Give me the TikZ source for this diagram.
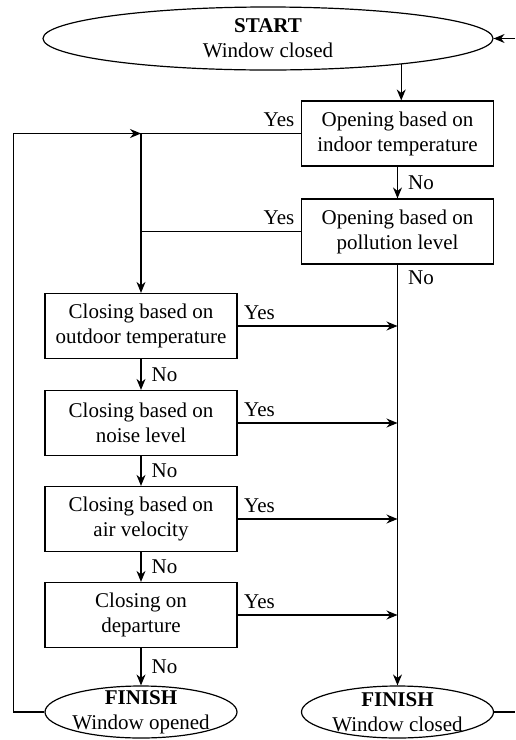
\documentclass[tikz,border=0pt]{standalone}
\usepackage{fontspec}
\setmainfont{Liberation Serif}
\usetikzlibrary{shapes.geometric,arrows.meta}

\begin{document}
\begin{tikzpicture}[x=0.5pt,y=-0.5pt,line width=0.6pt,
		every node/.style={font=\fontsize{10.5}{12.5}\selectfont},
		box/.style={draw,rectangle,minimum width=96pt,minimum height=32.5pt,align=center,inner sep=2pt},
		term/.style={draw,ellipse,inner sep=0pt},
		arr/.style={-{Stealth[length=5.5pt,width=4.5pt]}},
		lab/.style={inner sep=3pt}]
	\useasboundingbox (0,0) rectangle (515,740);
	% terminals
	\node[term,minimum width=225pt,minimum height=31.5pt,
		label={[align=center]center:\textbf{START}\\Window closed}] (start) at (268,38.5) {};
	\node[term,minimum width=96pt,minimum height=26pt,
		label={[align=center]center:\textbf{FINISH}\\Window opened}] (finO) at (141,712) {};
	\node[term,minimum width=96pt,minimum height=26pt,
		label={[align=center]center:\textbf{FINISH}\\Window closed}] (finC) at (397.5,712) {};
	% decisions
	\node[box] (openT) at (397.5,133.5) {Opening based on\\indoor temperature};
	\node[box] (openP) at (397.5,231.5) {Opening based on\\pollution level};
	\node[box] (closeT) at (141,326) {Closing based on\\outdoor temperature};
	\node[box] (closeN) at (141,423) {Closing based on\\noise level};
	\node[box] (closeV) at (141,519) {Closing based on\\air velocity};
	\node[box] (closeD) at (141,615) {Closing on\\departure};
	\coordinate (edge) at (515,0);

	\draw[arr] (start.-11.3) -- (start.-11.3 |- openT.north);
	\draw[arr] (openT.south) -- node[lab,right,xshift=2pt] {No} (openP.north);
	\draw[arr] (openP.south) -- node[lab,right,xshift=2pt,pos=0.03] {No} (finC.north);
	\draw[arr] (openT.west) node[lab,above left] {Yes} -- (openT.west -| closeT.north) -- (closeT.north);
	\draw (openP.west) node[lab,above left] {Yes} -- (openP.west -| closeT.north);
	\draw[arr] (closeT.south) -- node[lab,right,xshift=2pt] {No} (closeN.north);
	\draw[arr] (closeN.south) -- node[lab,right,xshift=2pt] {No} (closeV.north);
	\draw[arr] (closeV.south) -- node[lab,right,xshift=2pt] {No} (closeD.north);
	\draw[arr] (closeD.south) -- node[lab,right,xshift=2pt] {No} (finO.north);
	\foreach \n in {closeT,closeN,closeV,closeD}
		\draw[arr] (\n.east) node[lab,above right] {Yes} -- (\n.east -| finC.north);
	% loops back
	\draw[arr] (finO.west) -- ++(-31,0) |- (openT.west -| closeT.north);
	\draw (finC.east) -- (finC.east -| edge);
	\draw[arr] (start.east -| edge) -- (start.east);
\end{tikzpicture}
\end{document}
